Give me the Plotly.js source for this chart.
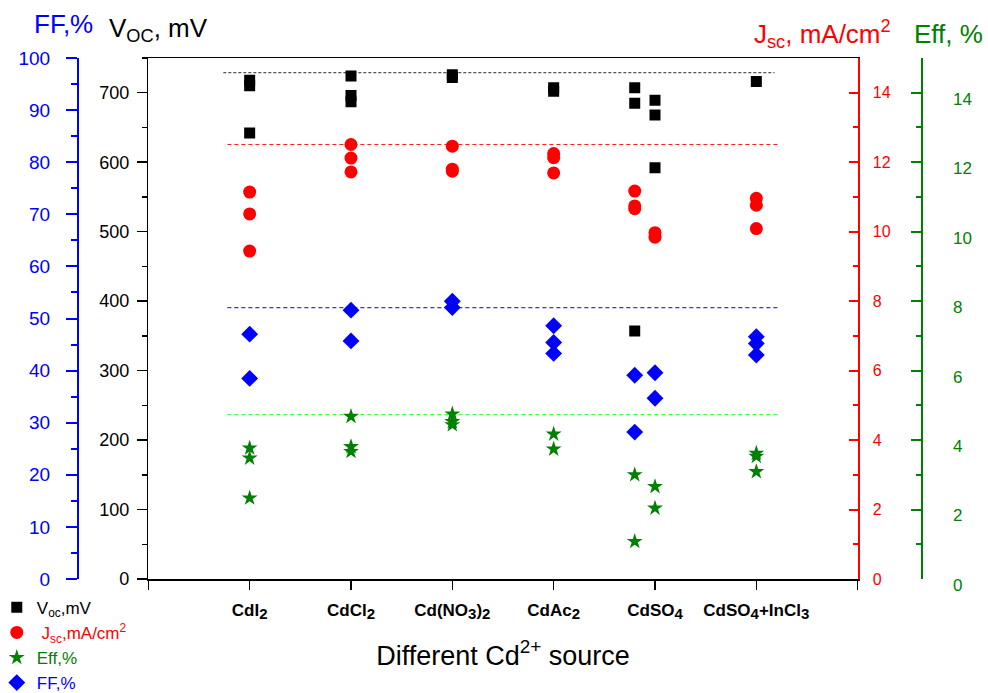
<!DOCTYPE html>
<html>
<head>
<meta charset="utf-8">
<script src="https://cdn.plot.ly/plotly-3.0.1.min.js"></script>
<style>html,body{margin:0;padding:0;background:#fff;}#chart{width:988px;height:693px;}</style>
</head>
<body>
<div id="chart"></div>
<script>
// ---- data ----
var categories = ['CdI<sub>2</sub>', 'CdCl<sub>2</sub>', 'Cd(NO<sub>3</sub>)<sub>2</sub>', 'CdAc<sub>2</sub>', 'CdSO<sub>4</sub>', 'CdSO<sub>4</sub>+InCl<sub>3</sub>'];
var categoryPos = [1, 2, 3, 4, 5, 6];

var vocX = [1, 1, 1, 2, 2, 2, 3, 3, 4, 4, 4.8, 4.8, 4.8, 5, 5, 5, 6];
var vocY = [718, 710, 642, 724, 696, 687, 726, 722, 707, 702, 707, 685, 357, 689, 668, 592, 716];

var jscX = [1, 1, 1, 2, 2, 2, 3, 3, 3, 4, 4, 4, 4.8, 4.8, 4.8, 5, 5, 6, 6, 6];
var jscY = [11.14, 10.51, 9.44, 12.51, 12.12, 11.72, 12.46, 11.80, 11.74, 12.25, 12.13, 11.69, 11.17, 10.74, 10.66, 9.97, 9.84, 10.96, 10.76, 10.09];

var effX = [1, 1, 1, 2, 2, 2, 3, 3, 3, 4, 4, 4.8, 4.8, 5, 5, 6, 6, 6];
var effY = [3.77, 3.48, 2.33, 4.68, 3.81, 3.67, 4.75, 4.53, 4.44, 4.17, 3.74, 3.00, 1.08, 2.66, 2.04, 3.62, 3.53, 3.09];

var ffX = [1, 1, 2, 2, 3, 3, 4, 4, 4, 4.8, 4.8, 5, 5, 6, 6, 6];
var ffY = [47.0, 38.5, 51.6, 45.7, 53.3, 52.1, 48.6, 45.4, 43.3, 39.1, 28.2, 39.6, 34.7, 46.5, 45.2, 43.0];

// reference (best-value) levels
var refVoc = [729, 729];
var refJsc = [12.51, 12.51];
var refFF = [52.1, 52.1];
var refEff = [4.73, 4.73];
var refSpanVoc = [0.74, 6.18];
var refSpanOther = [0.78, 6.23];

// ---- chart ----
var FONT = 'Arial, "Liberation Sans", sans-serif';
var tickVals = [0].concat(categoryPos).concat([7]);
var tickText = [''].concat(categories.map(function (c) {
  return c.replace(/<sub>/g, '<sub><span style="font-size:15px">').replace(/<\/sub>/g, '</span></sub>');
})).concat(['']);

var traces = [
  {x: refSpanVoc, y: refVoc, mode: 'lines', yaxis: 'y', showlegend: false,
   line: {color: '#555555', width: 1.2, dash: '3px,2px'}},
  {x: refSpanOther, y: refJsc, mode: 'lines', yaxis: 'y3', showlegend: false,
   line: {color: '#ff2020', width: 1.2, dash: '4px,3px'}},
  {x: refSpanOther, y: refFF, mode: 'lines', yaxis: 'y2', showlegend: false,
   line: {color: '#3030ff', width: 1.2, dash: '4px,3px'}},
  {x: refSpanOther, y: refEff, mode: 'lines', yaxis: 'y4', showlegend: false,
   line: {color: '#40ff40', width: 1.2, dash: '4px,3px'}},
  {x: vocX, y: vocY, mode: 'markers', yaxis: 'y', name: 'V<sub>oc</sub>,mV',
   marker: {symbol: 'square', size: 11, color: '#000000'}},
  {x: jscX, y: jscY, mode: 'markers', yaxis: 'y3',
   name: '<span style="color:#ff0000"> J<sub>sc</sub>,mA/cm<sup>2</sup></span>',
   marker: {symbol: 'circle', size: 13, color: '#ff0000'}},
  {x: effX, y: effY, mode: 'markers', yaxis: 'y4',
   name: '<span style="color:#008000">Eff,%</span>',
   marker: {symbol: 'star', size: 12, color: '#008000'}},
  {x: ffX, y: ffY, mode: 'markers', yaxis: 'y2',
   name: '<span style="color:#0000ff">FF,%</span>',
   marker: {symbol: 'diamond', size: 13, color: '#0000ff'}}
];

var layout = {
  width: 988, height: 693,
  margin: {l: 60, r: 50, t: 58, b: 114, autoexpand: false},
  paper_bgcolor: '#ffffff', plot_bgcolor: '#ffffff',
  font: {family: FONT, color: '#000000'},
  showlegend: true,
  legend: {x: -0.072, y: -0.0206, xanchor: 'left', yanchor: 'top',
           font: {size: 17, family: FONT, color: '#000000'},
           bgcolor: 'rgba(0,0,0,0)', tracegroupgap: 0},
  xaxis: {
    domain: [0.1006, 0.9085], range: [0, 7], tickmode: 'array',
    tickvals: tickVals, ticktext: tickText, automargin: false,
    showline: true, linecolor: '#000000', linewidth: 1.5, mirror: true,
    ticks: 'outside', ticklen: 9, tickwidth: 1.5, tickcolor: '#000000',
    ticklabelstandoff: 6,
    tickfont: {size: 17, weight: 'bold', family: FONT, color: '#000000'},
    showgrid: false, zeroline: false,
    title: {text: 'Different Cd<sup>2+</sup> source', standoff: 24,
            font: {size: 27, family: FONT, color: '#000000'}}
  },
  yaxis: {
    range: [0, 750], tickmode: 'linear', tick0: 0, dtick: 100, automargin: false,
    showline: true, linecolor: '#000000', linewidth: 1.5,
    ticks: 'outside', ticklen: 10, tickwidth: 1.5, tickcolor: '#000000',
    minor: {dtick: 50, ticks: 'outside', ticklen: 5, tickwidth: 1.5, tickcolor: '#000000', showgrid: false},
    tickfont: {size: 18, family: FONT, color: '#000000'}, ticklabelstandoff: 4,
    showgrid: false, zeroline: false
  },
  yaxis2: {
    overlaying: 'y', anchor: 'free', position: 0.0205, side: 'left', automargin: false,
    range: [0, 100], tickmode: 'linear', tick0: 0, dtick: 10,
    showline: true, linecolor: '#0000ff', linewidth: 2,
    ticks: 'outside', ticklen: 11, tickwidth: 2, tickcolor: '#0000ff',
    minor: {dtick: 5, ticks: 'outside', ticklen: 6, tickwidth: 2, tickcolor: '#0000ff', showgrid: false},
    tickfont: {size: 19, family: FONT, color: '#0000ff'}, ticklabelstandoff: 12,
    showgrid: false, zeroline: false
  },
  yaxis3: {
    overlaying: 'y', anchor: 'x', side: 'right', automargin: false,
    range: [0, 15], tickmode: 'linear', tick0: 0, dtick: 2,
    showline: true, linecolor: '#ff0000', linewidth: 2,
    ticks: 'inside', ticklen: 9, tickwidth: 2, tickcolor: '#ff0000',
    minor: {dtick: 1, ticks: 'inside', ticklen: 5, tickwidth: 2, tickcolor: '#ff0000', showgrid: false},
    tickfont: {size: 16, family: FONT, color: '#ff0000'}, ticklabelstandoff: 10,
    showgrid: false, zeroline: false
  },
  yaxis4: {
    overlaying: 'y', anchor: 'free', position: 0.9814, side: 'right', automargin: false,
    range: [0, 15], tickmode: 'linear', tick0: 0, dtick: 2,
    showline: true, linecolor: '#008000', linewidth: 2,
    ticks: 'inside', ticklen: 10, tickwidth: 2, tickcolor: '#008000',
    minor: {dtick: 1, ticks: 'inside', ticklen: 5, tickwidth: 2, tickcolor: '#008000', showgrid: false},
    tickfont: {size: 17, family: FONT, color: '#008000'}, ticklabelstandoff: 27, ticklabelshift: 6,
    showgrid: false, zeroline: false
  },
  annotations: [
    {text: 'FF,%', xref: 'paper', yref: 'paper', x: -0.0319, y: 1.065, xanchor: 'left', yanchor: 'middle',
     showarrow: false, font: {size: 26, family: FONT, color: '#0000ff'}},
    {text: 'V<sub>OC</sub>, mV', xref: 'paper', yref: 'paper', x: 0.0535, y: 1.055, xanchor: 'left', yanchor: 'middle',
     showarrow: false, font: {size: 26, family: FONT, color: '#000000'}},
    {text: 'J<sub>sc</sub>, mA/cm<sup>2</sup>', xref: 'paper', yref: 'paper', x: 0.788, y: 1.046, xanchor: 'left', yanchor: 'middle',
     showarrow: false, font: {size: 26, family: FONT, color: '#ff0000'}},
    {text: 'Eff, %', xref: 'paper', yref: 'paper', x: 0.9704, y: 1.046, xanchor: 'left', yanchor: 'middle',
     showarrow: false, font: {size: 26, family: FONT, color: '#008000'}}
  ]
};

Plotly.newPlot('chart', traces, layout, {staticPlot: true, displayModeBar: false});
</script>
</body>
</html>
